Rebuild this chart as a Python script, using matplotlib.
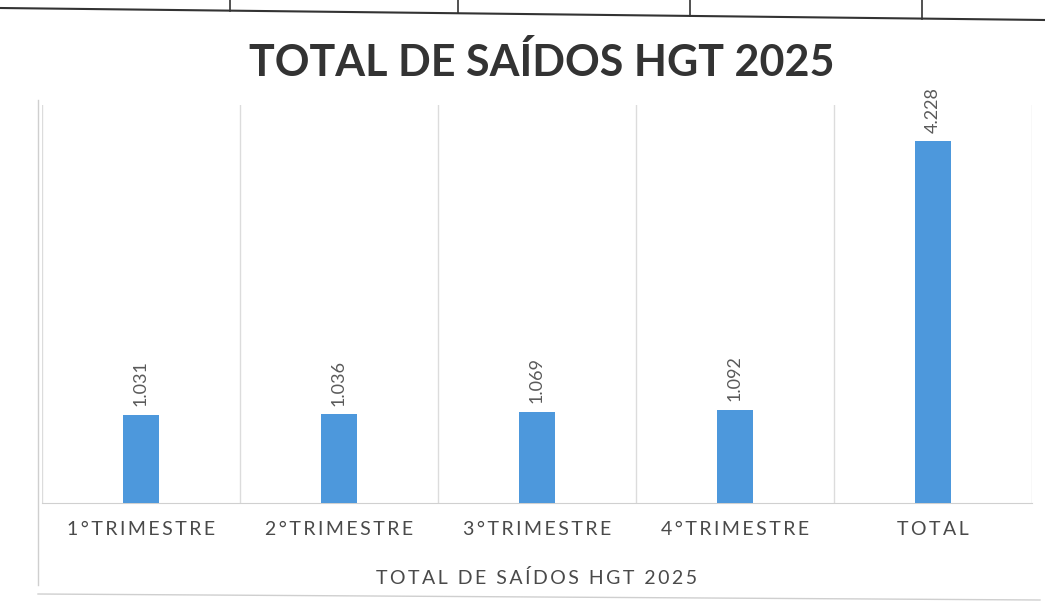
import matplotlib.pyplot as plt
from matplotlib.lines import Line2D
import numpy as np

categories = ["1°TRIMESTRE", "2°TRIMESTRE", "3°TRIMESTRE", "4°TRIMESTRE", "TOTAL"]
values = [1031, 1036, 1069, 1092, 4228]
title = "TOTAL DE SAÍDOS HGT 2025"
xlabel = "TOTAL DE SAÍDOS HGT 2025"

plt.rcParams['font.family'] = ['Lato', 'DejaVu Sans']


def spaced(s, gap="\u2009"):
    # Excel draws these labels with wide letter spacing
    return gap.join(s)


W, H = 1045, 609
fig = plt.figure(figsize=(W / 100, H / 100), dpi=100)
fig.patch.set_facecolor('white')

# plot area placed in pixel terms of the reference
left, right, top, base = 42, 1032, 105, 503
ax = fig.add_axes([left / W, 1 - base / H, (right - left) / W, (base - top) / H])

x = np.arange(len(categories))
ax.bar(x, values, width=0.18, color='#4d98dc', zorder=3)

for xi, v in zip(x, values):
    ax.text(xi, v + 100, f"{v:,}".replace(",", "."), rotation=90,
            ha='center', va='bottom', fontsize=13, color='#5a5a5a')

ax.set_xlim(-0.5, len(categories) - 0.5)
ax.set_ylim(0, 4650)
ax.set_yticks([])
ax.set_xticks(x)
ax.set_xticklabels([spaced(c) for c in categories], fontsize=14, color='#4a4a4a')
ax.tick_params(axis='x', length=0, pad=13)
ax.set_xticks(np.arange(-0.5, len(categories), 1.0), minor=True)
ax.tick_params(axis='x', which='minor', length=0)
ax.grid(axis='x', which='minor', color='#dcdcdc', linewidth=1, zorder=0)

for s in ['top', 'right', 'left']:
    ax.spines[s].set_visible(False)
ax.spines['bottom'].set_color('#d0d0d0')

ax.set_xlabel(spaced(xlabel), fontsize=14, color='#4a4a4a', labelpad=22)

fig.text(542 / W, 1 - 63 / H, title, ha='center', va='center',
         fontsize=31, fontweight='bold', color='#333333')

# outer chart border (left and bottom visible in the scan)
fig.add_artist(Line2D([38 / W, 38 / W], [1 - 100 / H, 1 - 585 / H],
                      color='#cfcfcf', lw=1, transform=fig.transFigure))
fig.add_artist(Line2D([38 / W, 1040 / W], [1 - 594 / H, 1 - 600 / H],
                      color='#cfcfcf', lw=1, transform=fig.transFigure))

# table border above the chart
fig.add_artist(Line2D([0, 1], [1 - 8 / H, 1 - 20 / H],
                      color='#333333', lw=1.5, transform=fig.transFigure))
for px in [230, 458, 690, 922]:
    yb = 8 + 12 * px / W
    fig.add_artist(Line2D([px / W, px / W], [1, 1 - yb / H],
                          color='#333333', lw=1.2, transform=fig.transFigure))

fig.savefig("out.png", dpi=100, facecolor='white')
